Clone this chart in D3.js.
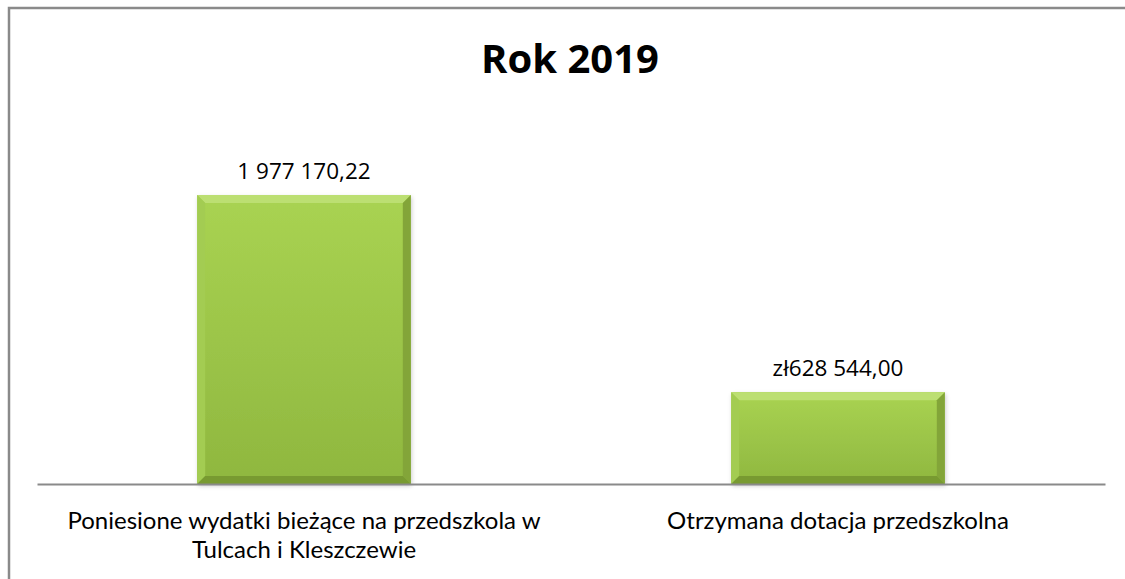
<!DOCTYPE html>
<html>
<head>
<meta charset="utf-8">
<script src="https://cdn.jsdelivr.net/npm/d3@7"></script>
<style>
  body { margin: 0; background: #fff; }
  svg text { font-family: "Open Sans", "Noto Sans", sans-serif; fill: #000; }
  svg text.cat { font-family: Lato, "Open Sans", sans-serif; }
</style>
</head>
<body>
<div id="chart"></div>
<script>
// data
var categories = [
  ["Poniesione wydatki bieżące na przedszkola w", "Tulcach i Kleszczewie"],
  ["Otrzymana dotacja przedszkolna"]
]
var values = [1977170.22, 628544.00]
var valueLabels = ["1 977 170,22", "zł628 544,00"]
var title = "Rok 2019"

var W = 1125, H = 579
var svg = d3.select("#chart")
  .append("svg")
  .attr("width", W)
  .attr("height", H)

// frame (only top and left edge visible)
svg.append("path")
  .attr("d", "M9," + H + " V8 H" + W)
  .attr("fill", "none")
  .attr("stroke", "#8a8a8a")
  .attr("stroke-width", 2.5)

// title
svg.append("text")
  .text(title)
  .attr("x", 570)
  .attr("y", 73)
  .attr("text-anchor", "middle")
  .attr("font-size", 40)
  .attr("font-weight", "bold")

var plot = {left: 37, right: 1105, top: 100, bottom: 484}

var x = d3.scaleBand()
  .domain(d3.range(values.length))
  .range([plot.left, plot.right])
  .paddingInner(0.6)
  .paddingOuter(0.3)

var y = d3.scaleLinear()
  .domain([0, 2000000])
  .range([plot.bottom, plot.bottom - 292.3])

// gradient for bar face
var defs = svg.append("defs")
var grad = defs.append("linearGradient")
  .attr("id", "face")
  .attr("x1", 0).attr("y1", 0).attr("x2", 0).attr("y2", 1)
grad.append("stop").attr("offset", "0%").attr("stop-color", "#a9d352")
grad.append("stop").attr("offset", "100%").attr("stop-color", "#8fb73f")

defs.append("filter").attr("id", "shadow")
  .append("feDropShadow")
  .attr("dx", 1).attr("dy", 2).attr("stdDeviation", 2)
  .attr("flood-color", "#000").attr("flood-opacity", 0.2)

var bev = 8
var bars = svg.selectAll("g.bar")
  .data(values)
  .join("g")
  .attr("class", "bar")

bars.each(function(d, i) {
  var g = d3.select(this)
  var x0 = x(i), x1 = x(i) + x.bandwidth()
  var y0 = y(d), y1 = y(0)
  g.append("rect")
    .attr("x", x0).attr("y", y0)
    .attr("width", x1 - x0).attr("height", y1 - y0)
    .attr("fill", "url(#face)")
    .attr("filter", "url(#shadow)")
  // bevel edges
  g.append("polygon")
    .attr("points", [[x0, y0], [x1, y0], [x1 - bev, y0 + bev], [x0 + bev, y0 + bev]].join(" "))
    .attr("fill", "#bcdf72")
  g.append("polygon")
    .attr("points", [[x0, y0], [x0 + bev, y0 + bev], [x0 + bev, y1 - bev], [x0, y1]].join(" "))
    .attr("fill", "#a3cc52")
  g.append("polygon")
    .attr("points", [[x1, y0], [x1, y1], [x1 - bev, y1 - bev], [x1 - bev, y0 + bev]].join(" "))
    .attr("fill", "#83a539")
  g.append("polygon")
    .attr("points", [[x0, y1], [x0 + bev, y1 - bev], [x1 - bev, y1 - bev], [x1, y1]].join(" "))
    .attr("fill", "#789a31")
})

// value labels
svg.selectAll("text.value")
  .data(values)
  .join("text")
  .attr("class", "value")
  .attr("x", (d, i) => x(i) + x.bandwidth() / 2)
  .attr("y", d => y(d) - 16)
  .attr("text-anchor", "middle")
  .attr("font-size", 22.5)
  .text((d, i) => valueLabels[i])

// axis line
var xAxis = d3.axisBottom(x).tickSize(0).tickFormat("")
svg.append("g")
  .attr("transform", "translate(0," + plot.bottom + ")")
  .call(xAxis)
  .call(g => g.select(".domain").attr("stroke", "#8a8a8a").attr("stroke-width", 2))

// category labels
var cat = svg.selectAll("text.cat")
  .data(categories)
  .join("text")
  .attr("class", "cat")
  .attr("text-anchor", "middle")
  .attr("font-size", 24)

cat.each(function(lines, i) {
  var t = d3.select(this)
  lines.forEach(function(line, k) {
    t.append("tspan")
      .attr("x", x(i) + x.bandwidth() / 2)
      .attr("y", 529 + k * 29)
      .text(line)
  })
})
</script>
</body>
</html>
